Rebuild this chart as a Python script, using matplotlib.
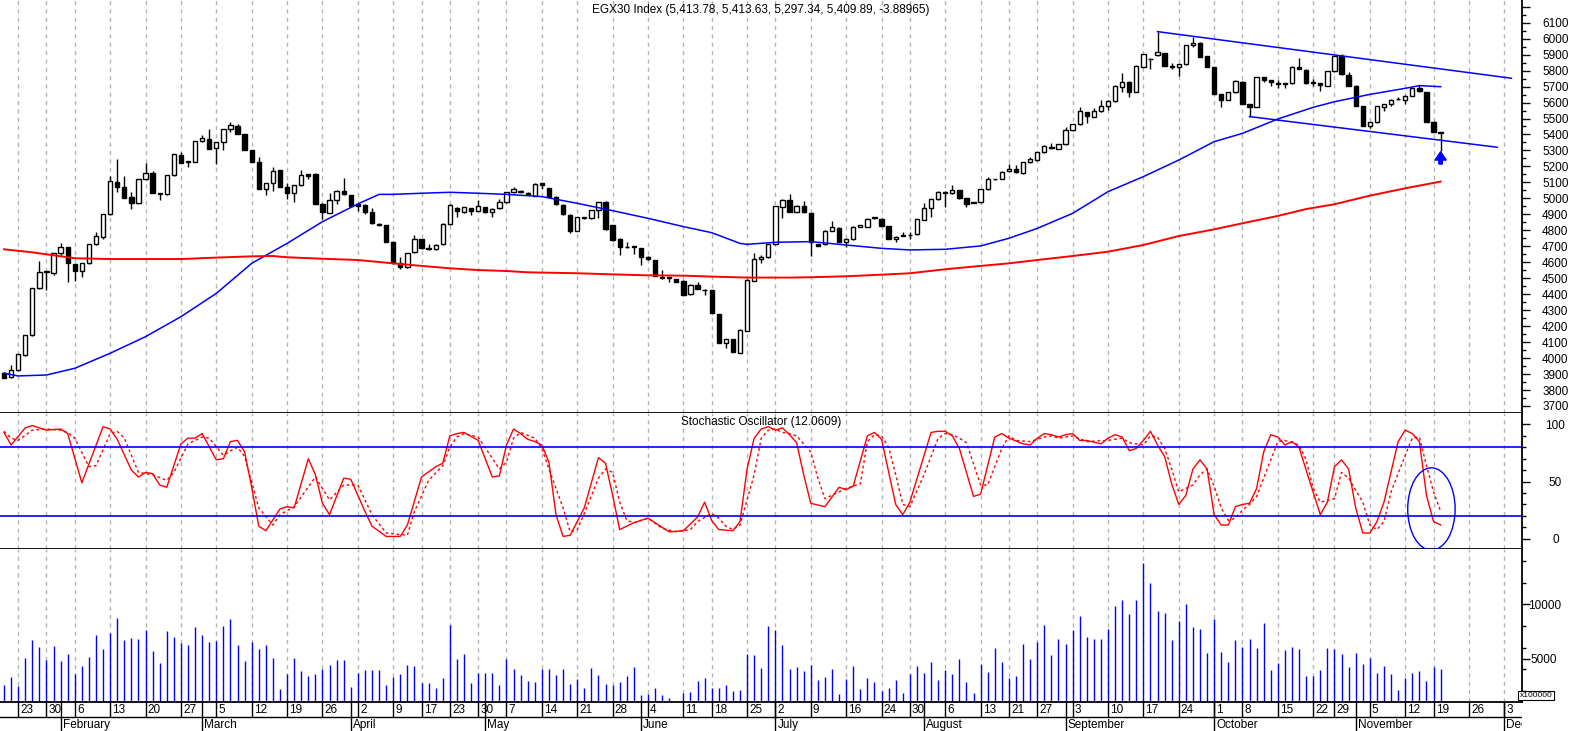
import numpy as np
import matplotlib
matplotlib.use('Agg')
import matplotlib.pyplot as plt
from matplotlib.patches import Ellipse

plt.rcParams['font.family'] = ['Liberation Sans', 'DejaVu Sans']

title = 'EGX30 Index (5,413.78, 5,413.63, 5,297.34, 5,409.89, -3.88965)'
stoch_title = 'Stochastic Oscillator (12.0609)'

# daily candles, one per trading day
opens = [3909, 3879, 3925, 4019, 4142, 4437, 4537, 4535, 4656, 4693,
         4587, 4545, 4593, 4712, 4760, 4900, 5100, 5069, 5007, 4969,
         5119, 5159, 5025, 5025, 5144, 5272, 5232, 5230, 5357, 5370,
         5313, 5351, 5432, 5453, 5401, 5301, 5226, 5059, 5096, 5176,
         5069, 5036, 5082, 5150, 5153, 4965, 4911, 4988, 5044, 5019,
         4965, 4959, 4915, 4840, 4831, 4727, 4593, 4568, 4662, 4744,
         4687, 4681, 4712, 4838, 4940, 4913, 4938, 4923, 4944, 4913,
         4938, 4975, 5038, 5048, 5036, 5017, 5094, 5063, 5009, 4959,
         4896, 4796, 4883, 4875, 4927, 4977, 4833, 4746, 4693, 4698,
         4689, 4633, 4614, 4508, 4502, 4495, 4483, 4399, 4458, 4428,
         4426, 4276, 4092, 4117, 4034, 4172, 4485, 4622, 4631, 4712,
         4948, 4990, 4917, 4952, 4906, 4714, 4714, 4798, 4817, 4727,
         4744, 4823, 4823, 4881, 4871, 4827, 4746, 4765, 4770, 4775,
         4867, 4942, 4994, 5040, 5032, 5050, 5000, 4973, 4975, 5057,
         5119, 5123, 5171, 5182, 5157, 5226, 5240, 5288, 5324, 5311,
         5338, 5426, 5464, 5539, 5512, 5545, 5578, 5608, 5699, 5729,
         5668, 5825, 5871, 5896, 5908, 5826, 5820, 5839, 5960, 5973,
         5891, 5822, 5651, 5616, 5664, 5731, 5589, 5574, 5758, 5741,
         5719, 5722, 5720, 5820, 5804, 5727, 5720, 5704, 5797, 5891,
         5770, 5704, 5578, 5455, 5476, 5574, 5589, 5620, 5616, 5643,
         5693, 5666, 5476, 5413.78]
highs = [3912, 3957, 4025, 4144, 4440, 4608, 4547, 4660, 4723, 4696,
         4590, 4596, 4715, 4787, 4903, 5142, 5244, 5140, 5042, 5122,
         5221, 5169, 5035, 5147, 5279, 5288, 5235, 5360, 5399, 5434,
         5354, 5435, 5476, 5464, 5404, 5304, 5257, 5099, 5194, 5179,
         5096, 5085, 5176, 5153, 5156, 4968, 5032, 5051, 5125, 5022,
         4968, 4962, 4938, 4843, 4834, 4730, 4631, 4659, 4771, 4747,
         4712, 4713, 4843, 4965, 4943, 4947, 4941, 4990, 4947, 4939,
         4994, 5041, 5069, 5051, 5039, 5095, 5097, 5066, 5012, 4962,
         4899, 4884, 4886, 4928, 4980, 4985, 4836, 4749, 4727, 4700,
         4692, 4636, 4617, 4551, 4507, 4498, 4486, 4461, 4474, 4431,
         4429, 4279, 4120, 4120, 4179, 4492, 4656, 4648, 4717, 4955,
         4993, 5025, 4957, 4981, 4909, 4717, 4801, 4860, 4820, 4749,
         4824, 4834, 4876, 4884, 4874, 4830, 4763, 4792, 4787, 4872,
         4969, 4997, 5045, 5043, 5084, 5053, 5003, 4978, 5060, 5132,
         5124, 5170, 5217, 5209, 5229, 5261, 5291, 5331, 5349, 5341,
         5447, 5467, 5570, 5542, 5568, 5616, 5613, 5707, 5787, 5732,
         5832, 5905, 5876, 6044, 5911, 5845, 5842, 5963, 6012, 5976,
         5894, 5825, 5654, 5669, 5738, 5734, 5592, 5761, 5761, 5744,
         5741, 5725, 5828, 5877, 5807, 5747, 5723, 5800, 5894, 5902,
         5789, 5707, 5581, 5479, 5581, 5592, 5619, 5637, 5646, 5692,
         5710, 5669, 5487, 5413.78]
lows = [3875, 3877, 3922, 4013, 4140, 4435, 4426, 4520, 4645, 4478,
        4485, 4510, 4590, 4709, 4748, 4897, 5042, 5000, 4936, 4966,
        5116, 5033, 4990, 5022, 5141, 5221, 5198, 5227, 5354, 5308,
        5215, 5303, 5418, 5402, 5300, 5227, 5058, 5019, 5048, 5070,
        4996, 4979, 5079, 5119, 4964, 4871, 4908, 4963, 5022, 4951,
        4923, 4902, 4841, 4828, 4726, 4590, 4560, 4565, 4659, 4684,
        4678, 4678, 4709, 4835, 4885, 4906, 4898, 4920, 4906, 4885,
        4935, 4972, 5035, 5035, 5022, 5014, 5057, 5008, 4960, 4897,
        4785, 4793, 4872, 4872, 4879, 4803, 4736, 4645, 4690, 4650,
        4583, 4615, 4511, 4496, 4478, 4475, 4392, 4396, 4430, 4395,
        4277, 4094, 4061, 4037, 4031, 4169, 4482, 4597, 4628, 4709,
        4875, 4914, 4914, 4910, 4641, 4701, 4711, 4795, 4726, 4693,
        4741, 4820, 4820, 4872, 4826, 4743, 4729, 4762, 4748, 4772,
        4864, 4881, 4991, 4944, 5029, 4999, 4948, 4970, 4972, 5054,
        5116, 5120, 5168, 5160, 5154, 5223, 5237, 5285, 5310, 5308,
        5335, 5423, 5461, 5474, 5509, 5542, 5553, 5605, 5668, 5637,
        5665, 5822, 5812, 5893, 5828, 5808, 5768, 5836, 5946, 5884,
        5822, 5653, 5570, 5613, 5661, 5590, 5512, 5571, 5731, 5706,
        5689, 5689, 5717, 5807, 5717, 5704, 5672, 5701, 5794, 5774,
        5703, 5577, 5452, 5438, 5473, 5547, 5578, 5617, 5589, 5640,
        5669, 5477, 5415, 5297.34]
closes = [3877, 3925, 4023, 4142, 4437, 4537, 4545, 4656, 4698, 4593,
          4547, 4593, 4712, 4764, 4900, 5109, 5073, 5004, 4973, 5119,
          5157, 5036, 5032, 5144, 5276, 5224, 5226, 5357, 5378, 5311,
          5351, 5432, 5457, 5405, 5303, 5230, 5061, 5096, 5173, 5073,
          5036, 5082, 5144, 5142, 4967, 4917, 4988, 5048, 5025, 4954,
          4954, 4917, 4844, 4831, 4729, 4593, 4568, 4656, 4744, 4687,
          4681, 4710, 4840, 4956, 4919, 4944, 4923, 4950, 4915, 4936,
          4977, 5038, 5057, 5038, 5025, 5092, 5082, 5011, 4963, 4900,
          4796, 4881, 4875, 4925, 4977, 4806, 4739, 4693, 4698, 4696,
          4635, 4618, 4514, 4499, 4504, 4478, 4395, 4458, 4433, 4426,
          4280, 4097, 4117, 4040, 4176, 4489, 4618, 4631, 4714, 4952,
          4990, 4917, 4954, 4913, 4729, 4704, 4798, 4819, 4729, 4746,
          4821, 4831, 4873, 4875, 4829, 4746, 4760, 4767, 4771, 4869,
          4942, 4994, 5042, 5036, 5055, 5002, 4967, 4975, 5057, 5119,
          5121, 5167, 5182, 5163, 5226, 5244, 5288, 5328, 5313, 5338,
          5426, 5464, 5547, 5518, 5547, 5578, 5610, 5704, 5731, 5668,
          5829, 5902, 5873, 5914, 5831, 5824, 5839, 5960, 5973, 5887,
          5825, 5656, 5616, 5666, 5735, 5593, 5574, 5758, 5741, 5727,
          5718, 5716, 5825, 5810, 5720, 5725, 5710, 5797, 5891, 5777,
          5706, 5580, 5455, 5476, 5578, 5589, 5616, 5622, 5643, 5689,
          5672, 5480, 5418, 5409.89]

# volume (x100000)
volume = [2560, 3298, 2468, 5049, 6709, 6064, 4865, 6156, 4773, 5418,
          3574, 4312, 5142, 7170, 5879, 7354, 8737, 6709, 6893, 6801,
          7631, 5695, 4589, 7539, 6985, 6432, 6248, 7907, 7170, 6524,
          6617, 8000, 8645, 6248, 4773, 6524, 5879, 6248, 5049, 2192,
          3574, 5049, 3851, 3390, 3574, 4035, 4404, 4865, 4865, 2376,
          3667, 3943, 3943, 3943, 2560, 3298, 3574, 4404, 4312, 2745,
          2745, 2284, 3206, 8092, 4957, 5418, 2745, 3667, 3667, 3667,
          2560, 4957, 4035, 3482, 2929, 2837, 4035, 4035, 3482, 4035,
          2653, 3113, 2284, 4128, 3482, 2653, 2560, 2837, 3390, 4220,
          1638, 1731, 2284, 1638, 1362, 0, 1823, 1915, 2929, 3206,
          2284, 2284, 2560, 2007, 2099, 5418, 5326, 4128, 8000, 7631,
          6248, 4035, 4220, 3851, 4404, 3021, 3298, 4035, 1731, 3113,
          4312, 2192, 3206, 2837, 2007, 2284, 3021, 1823, 3574, 4312,
          3667, 4681, 3021, 3943, 3574, 4957, 2837, 1823, 4496, 3759,
          5971, 4681, 3206, 3390, 6340, 4957, 6524, 8092, 5326, 6801,
          6340, 7631, 8922, 6985, 6801, 6801, 7723, 9843, 10397, 9106,
          10397, 13838, 11964, 9382, 9198, 6709, 8461, 10028, 7907, 7723,
          5511, 8645, 5603, 4681, 6709, 6064, 6801, 5971, 8276, 3943,
          4589, 5787, 6064, 5879, 3390, 3390, 3943, 5971, 5879, 5418,
          4220, 5511, 4496, 5049, 3667, 4312, 3574, 2099, 3206, 3667,
          3851, 2929, 4220, 4035]

# moving averages (day index, value)
ma_blue_day = [0, 2, 6, 10, 15, 20, 25, 30, 35, 40, 45, 50, 53, 55, 59, 63, 67, 71,
               76, 81, 86, 91, 96, 100, 104, 105, 109, 114, 119, 124, 128, 133, 138,
               142, 146, 151, 156, 161, 166, 171, 175, 180, 185, 188, 193, 198, 200, 203]
ma_blue = [3905, 3888, 3894, 3936, 4030, 4134, 4259, 4405, 4593, 4718, 4854, 4965,
           5025, 5025, 5032, 5038, 5032, 5025, 5011, 4969, 4923, 4875, 4823, 4785,
           4718, 4712, 4725, 4729, 4708, 4687, 4677, 4681, 4702, 4750, 4812, 4906,
           5042, 5136, 5240, 5355, 5407, 5497, 5570, 5605, 5651, 5689, 5706, 5699]
ma_red_day = [0, 4, 10, 15, 25, 30, 35, 38, 40, 45, 50, 55, 59, 63, 67, 71, 74, 81,
              86, 91, 96, 100, 105, 111, 114, 119, 124, 128, 133, 138, 142, 146, 151,
              156, 161, 166, 171, 175, 180, 184, 188, 193, 198, 203]
ma_red = [4681, 4662, 4625, 4620, 4620, 4629, 4637, 4639, 4631, 4622, 4614, 4593,
          4577, 4562, 4551, 4545, 4537, 4531, 4524, 4518, 4516, 4510, 4504, 4504,
          4506, 4512, 4522, 4531, 4556, 4577, 4593, 4614, 4639, 4666, 4708, 4764,
          4806, 4844, 4890, 4933, 4963, 5017, 5063, 5105]

# hand drawn trend channel
upper_day, upper_val = [163, 213], [6044, 5752]
lower_day, lower_val = [176, 211], [5512, 5320]

# stochastic %K (solid) and %D (dotted), read at turning points
k_day = [0, 1, 3, 4, 6, 8, 9, 11, 14, 15, 16, 18, 19, 20, 21, 22, 23, 25, 26, 27, 28,
         30, 31, 32, 33, 34, 35, 36, 37, 39, 40, 41, 43, 44, 45, 46, 48, 49, 51, 52,
         54, 56, 57, 59, 61, 62, 63, 64, 65, 67, 69, 70, 71, 72, 73, 74, 75, 76, 77,
         78, 79, 80, 82, 84, 85, 86, 87, 89, 91, 92, 94, 96, 98, 99, 100, 101, 103,
         104, 105, 106, 107, 108, 109, 110, 111, 112, 113, 114, 116, 118, 119, 120,
         122, 123, 124, 126, 127, 128, 131, 132, 133, 134, 135, 137, 138, 140, 141,
         142, 144, 145, 146, 147, 148, 149, 150, 151, 152, 153, 155, 156, 157, 158,
         159, 160, 161, 162, 163, 164, 165, 166, 167, 168, 169, 170, 171, 172, 173,
         174, 175, 176, 177, 178, 179, 180, 181, 182, 183, 184, 186, 187, 188, 189,
         190, 191, 192, 193, 194, 195, 197, 198, 199, 200, 201, 202, 203]
k_val = [93, 82, 97, 99, 95, 96, 92, 49, 98, 96, 87, 60, 54, 58, 57, 47, 45, 83, 88, 88, 92,
         69, 70, 85, 86, 76, 45, 11, 7, 26, 28, 27, 70, 56, 31, 21, 53, 52, 24, 11,
         2, 2, 12, 54, 63, 66, 90, 92, 93, 86, 54, 55, 82, 96, 92, 87, 85, 82, 67,
         21, 2, 3, 27, 71, 66, 38, 8, 14, 18, 14, 6, 7, 19, 32, 16, 8, 7,
         15, 61, 88, 96, 98, 95, 97, 91, 84, 56, 31, 28, 45, 43, 46,
         90, 93, 87, 30, 21, 32, 93, 94, 94, 90, 79, 37, 39, 89, 92,
         88, 83, 82, 88, 92, 91, 89, 91, 92, 86, 86, 83, 88, 91, 89,
         77, 79, 86, 94, 82, 72, 48, 30, 38, 61, 69, 61, 21, 12, 12,
         28, 30, 31, 44, 76, 91, 89, 82, 85, 80, 60, 21, 32, 63, 69,
         61, 27, 5, 5, 15, 32, 85, 95, 92, 85, 38, 15, 12.06]
d_day = [0, 1, 2, 4, 6, 8, 9, 10, 12, 13, 15, 16, 17, 19, 21, 23, 24, 26, 28, 29, 31,
         32, 33, 34, 36, 38, 39, 41, 44, 46, 48, 50, 52, 54, 57, 58, 60, 62, 63, 64,
         65, 67, 70, 71, 72, 73, 75, 76, 77, 79, 80, 81, 82, 84, 85, 86, 87, 88, 89,
         91, 93, 95, 97, 98, 100, 101, 102, 103, 104, 106, 107, 108, 109, 110, 111,
         112, 114, 115, 116, 117, 119, 121, 122, 123, 124, 125, 126, 127, 128, 130,
         132, 133, 134, 135, 136, 138, 139, 141, 142, 143, 145, 147, 148, 149, 151,
         153, 156, 158, 159, 161, 162, 163, 164, 165, 166, 168, 169, 170, 171, 172,
         173, 174, 175, 176, 177, 179, 180, 181, 183, 184, 185, 186, 188, 189, 190,
         192, 193, 194, 195, 196, 198, 199, 200, 201, 202, 203]
d_val = [94, 88, 86, 95, 96, 95, 93, 88, 63, 64, 92, 94, 88, 58, 56, 51, 58, 83, 89, 88, 73,
         77, 80, 72, 27, 12, 21, 28, 54, 34, 47, 47, 21, 5, 3, 24, 51, 64, 80, 89,
         92, 89, 61, 67, 88, 93, 88, 79, 61, 27, 6, 8, 22, 53, 61, 58, 32, 16, 14,
         18, 9, 6, 8, 15, 22, 18, 11, 8, 12, 56, 88, 95, 96, 93, 92,
         90, 76, 53, 35, 38, 44, 48, 85, 91, 90, 80, 56, 30, 28, 56,
         88, 92, 91, 88, 84, 47, 47, 79, 90, 86, 85, 89, 90, 88, 90,
         85, 86, 88, 84, 82, 90, 89, 79, 61, 41, 47, 56, 61, 46, 27,
         16, 18, 25, 30, 37, 69, 85, 86, 82, 69, 44, 32, 35, 58, 53,
         32, 12, 8, 15, 41, 73, 88, 89, 64, 41, 24]

# calendar axis: weekly ticks and month starts (trading-day index)
week_day = [2, 6, 10, 15, 20, 25, 30, 35, 40, 45, 50, 55, 59, 63, 67, 71, 76, 81, 86, 91,
            96, 100, 105, 109, 114, 119, 124, 128, 133, 138, 142, 146, 151, 156, 161,
            166, 171, 175, 180, 185, 188, 193, 198, 202, 207, 212]
week_lbl = ['23', '30', '6', '13', '20', '27', '5', '12', '19', '26', '2', '9', '17', '23',
            '30', '7', '14', '21', '28', '4', '11', '18', '25', '2', '9', '16', '24', '30',
            '6', '13', '21', '27', '3', '10', '17', '24', '1', '8', '15', '22', '29', '5',
            '12', '19', '26', '3']
month_day = [8, 28, 49, 68, 90, 109, 130, 150, 171, 191, 212]
month_lbl = ['February', 'March', 'April', 'May', 'June', 'July', 'August',
             'September', 'October', 'November', 'Dec']

opens, highs, lows, closes = map(np.array, (opens, highs, lows, closes))
x = np.arange(len(closes))

W, H = 1570, 731
fig = plt.figure(figsize=(W / 100, H / 100), dpi=100)
right = 1522


def panel(top, bottom):
    return fig.add_axes([0, 1 - bottom / H, right / W, (bottom - top) / H])


ax_p = panel(0, 413)
ax_s = panel(413, 549)
ax_v = panel(549, 702)
ax_d = panel(702, 731)
xlim = (-0.565, 214.5)

for ax in (ax_p, ax_s, ax_v):
    ax.set_xlim(xlim)
    for d in week_day:
        ax.axvline(d, color='#b4b4b4', lw=1, ls=(0, (3, 3)), zorder=0)
    ax.set_xticks([])
    ax.yaxis.tick_right()
    ax.spines['left'].set_visible(False)
    ax.spines['top'].set_visible(False)
    for s in ('right', 'bottom'):
        ax.spines[s].set_linewidth(1.3)
    ax.tick_params(axis='y', which='major', length=6, width=1, labelsize=8.5, pad=18)
    ax.tick_params(axis='y', which='minor', length=3, width=1)

# price panel
up = closes >= opens
ax_p.vlines(x, lows, highs, color='black', lw=1, zorder=2)
body = np.maximum(np.abs(closes - opens), 3)
ax_p.bar(x, body, bottom=np.minimum(opens, closes), width=0.6,
         color=np.where(up, 'white', 'black'), edgecolor='black', linewidth=1, zorder=3)
ax_p.plot(ma_blue_day, ma_blue, color='#0000ff', lw=1.1, zorder=4)
ax_p.plot(ma_red_day, ma_red, color='#ff0000', lw=1.4, zorder=4)
ax_p.plot(upper_day, upper_val, color='#0000ff', lw=1.1, zorder=4)
ax_p.plot(lower_day, lower_val, color='#0000ff', lw=1.1, zorder=4)
ax_p.annotate('', xy=(203, 5292), xytext=(203, 5215),
              arrowprops=dict(facecolor='#0000ff', edgecolor='#0000ff', width=2.5,
                              headwidth=8, headlength=6, shrink=0))
ax_p.set_ylim(3656, 6242)
ax_p.set_yticks(range(3700, 6201, 100))
ax_p.set_yticklabels([str(v) if v <= 6100 else '' for v in range(3700, 6201, 100)])
ax_p.set_yticks(range(3750, 6242, 100), minor=True)
ax_p.text(0.5, 1 - 10 / 413, title, transform=ax_p.transAxes, ha='center',
          va='center', fontsize=8.5)

# stochastic panel
ax_s.plot(k_day, k_val, color='#ff0000', lw=1)
ax_s.plot(d_day, d_val, color='#ff0000', lw=1, ls=(0, (2, 2)))
ax_s.axhline(80, color='#0000ff', lw=1.2)
ax_s.axhline(20, color='#0000ff', lw=1.2)
ax_s.add_patch(Ellipse((201.7, 26), 6.7, 72, fill=False, edgecolor='#0000ff',
                       lw=1, clip_on=False, zorder=5))
ax_s.set_ylim(-9, 110)
ax_s.set_yticks([0, 50, 100])
ax_s.set_yticks(range(10, 110, 10), minor=True)
ax_s.text(0.5, (549 - 421.7) / 136, stoch_title, transform=ax_s.transAxes,
          ha='center', va='center', fontsize=8.5)

# volume panel
ax_v.vlines(x, 0, volume, color='#0000ff', lw=1.0)
ax_v.set_ylim(992, 15100)
ax_v.set_yticks([5000, 10000])
ax_v.set_yticks(range(2000, 15000, 2000), minor=True)
ax_v.tick_params(axis='y', which='major', pad=10)

for ax in (ax_p, ax_s, ax_v):
    plt.setp(ax.get_yticklabels(), ha='center')

fig.text(1536 / W, 1 - 695.5 / H, 'x100000', fontsize=6, ha='center', va='center',
         bbox=dict(boxstyle='square,pad=0.15', fc='white', ec='black', lw=0.8))

# date strip
ax_d.set_xlim(xlim)
ax_d.set_ylim(0, 1)
ax_d.axis('off')
mid = (731 - 716.7) / 29
ax_d.axhline(mid, color='black', lw=1)
ax_d.vlines(week_day, mid, 1, color='black', lw=1)
ax_d.vlines(month_day, 0, 1, color='black', lw=1)
for d, lbl in zip(week_day, week_lbl):
    ax_d.text(d + 0.3, 0.72, lbl, ha='left', va='center', fontsize=8.5, clip_on=True)
for d, lbl in zip(month_day, month_lbl):
    ax_d.text(d + 0.3, 0.22, lbl, ha='left', va='center', fontsize=8.5, clip_on=True)

fig.savefig('out.png', dpi=100, facecolor='white')
